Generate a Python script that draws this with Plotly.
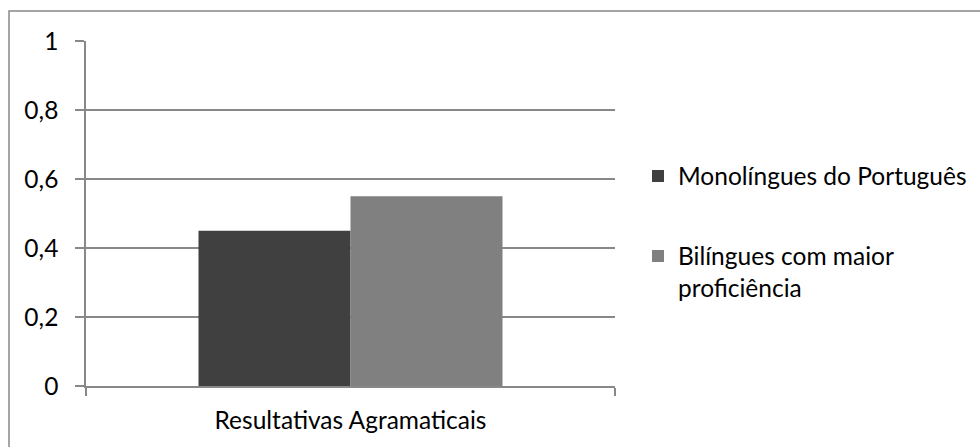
import plotly.graph_objects as go

categories = ["Resultativas Agramaticais"]
series_names = ["Monolíngues do Português", "Bilíngues com maior<br>proficiência"]
mono_values = [0.45]
bil_values = [0.55]
y_tickvals = [0, 0.2, 0.4, 0.6, 0.8, 1]
y_ticktext = ["0", "0,2", "0,4", "0,6", "0,8", "1"]

W, H = 980, 447
L, R, T, B = 86, 615, 41, 386
pw, ph = R - L, B - T

def px(x):
    return (x - L) / pw

def py(y):
    return (B - y) / ph

FONT = "Lato"
FS = 24.5
GRID = "#888888"

fig = go.Figure()
fig.add_trace(go.Bar(x=categories, y=mono_values, name=series_names[0],
                     marker=dict(color="#404040", line=dict(width=0)), legend="legend"))
fig.add_trace(go.Bar(x=categories, y=bil_values, name=series_names[1],
                     marker=dict(color="#808080", line=dict(width=0)), legend="legend2"))

fig.update_layout(
    width=W, height=H,
    margin=dict(l=L, r=W - R, t=T, b=H - B, pad=0, autoexpand=False),
    paper_bgcolor="white", plot_bgcolor="white",
    font=dict(family=FONT, size=FS, color="black"),
    separators=",.",
    barmode="group", bargap=1 - 304 / 529, bargroupgap=0,
    showlegend=True,
    legend=dict(x=px(638), xanchor="left", y=py(176), yanchor="middle",
                bgcolor="rgba(0,0,0,0)", borderwidth=0, valign="top",
                font=dict(family=FONT, size=FS, color="black")),
    legend2=dict(x=px(638), xanchor="left", y=py(272), yanchor="middle",
                 bgcolor="rgba(0,0,0,0)", borderwidth=0, valign="top",
                 font=dict(family=FONT, size=FS, color="black")),
    xaxis=dict(showline=True, linecolor=GRID, linewidth=1.5,
               ticks="outside", tickson="boundaries", ticklen=8,
               tickcolor=GRID, tickwidth=1.5, ticklabelstandoff=12,
               showgrid=False, zeroline=False, fixedrange=True),
    yaxis=dict(range=[0, 1], tickvals=y_tickvals, ticktext=y_ticktext,
               showline=True, linecolor=GRID, linewidth=1.5,
               ticks="outside", ticklen=9, tickcolor=GRID, tickwidth=1.5,
               ticklabelstandoff=12,
               showgrid=True, gridcolor=GRID, gridwidth=1.5,
               zeroline=False, fixedrange=True),
    shapes=[dict(type="rect", xref="paper", yref="paper",
                 x0=px(9), x1=px(1010), y0=py(480), y1=py(11),
                 line=dict(color=GRID, width=1.5), fillcolor="rgba(0,0,0,0)",
                 layer="below")],
)

fig.write_html("out.html")
